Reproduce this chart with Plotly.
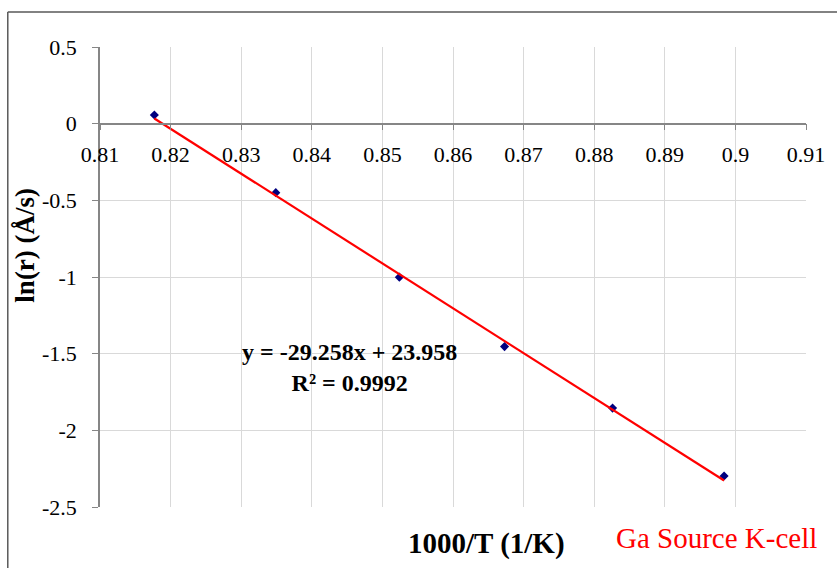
import plotly.graph_objects as go

# Data
inv_T = [0.8177, 0.8349, 0.8524, 0.8673, 0.8826, 0.8984]
ln_r = [0.057, -0.450, -1.001, -1.454, -1.855, -2.298]

# Trendline coefficients as printed on the chart
slope = -29.258
intercept = 23.958
r_squared = 0.9992

x_ticks = [0.81, 0.82, 0.83, 0.84, 0.85, 0.86, 0.87, 0.88, 0.89, 0.90, 0.91]
x_ticktext = ["0.81", "0.82", "0.83", "0.84", "0.85", "0.86", "0.87", "0.88", "0.89", "0.9", "0.91"]
y_ticks = [0.5, 0, -0.5, -1, -1.5, -2, -2.5]
y_ticktext = ["0.5", "0", "-0.5", "-1", "-1.5", "-2", "-2.5"]

x_range = [0.81, 0.91]
y_range = [-2.5, 0.5]

FONT = "Liberation Serif, Times New Roman, serif"

fig = go.Figure()

trend_x = [min(inv_T), max(inv_T)]
trend_y = [slope * v + intercept for v in trend_x]

fig.add_trace(go.Scatter(
    x=inv_T, y=ln_r, mode="markers",
    marker=dict(symbol="diamond", size=7, color="#00007f"),
    showlegend=False, hoverinfo="x+y",
))
fig.add_trace(go.Scatter(
    x=trend_x, y=trend_y, mode="lines",
    line=dict(color="#ff0000", width=2.2),
    showlegend=False, hoverinfo="skip",
))

zero_pos = (0 - y_range[0]) / (y_range[1] - y_range[0])

fig.update_layout(
    width=837, height=568,
    margin=dict(l=100, r=25, t=47, b=61),
    paper_bgcolor="white", plot_bgcolor="white",
    font=dict(family=FONT, size=20, color="black"),
    xaxis=dict(
        range=x_range, tickvals=x_ticks, ticktext=x_ticktext,
        showgrid=True, gridcolor="#d9d9d9", gridwidth=1,
        showline=True, linecolor="#868686", linewidth=1.5,
        ticks="outside", ticklen=6, tickcolor="#868686",
        anchor="free", position=zero_pos, side="bottom",
        zeroline=False, ticklabelstandoff=5,
        tickfont=dict(family=FONT, size=22, color="black"),
        domain=[0, 1],
    ),
    yaxis=dict(
        range=y_range, tickvals=y_ticks, ticktext=y_ticktext,
        showgrid=True, gridcolor="#d9d9d9", gridwidth=1,
        showline=True, linecolor="#868686", linewidth=1.5,
        ticks="outside", ticklen=6, tickcolor="#868686",
        zeroline=False, ticklabelstandoff=11,
        tickfont=dict(family=FONT, size=22, color="black"),
        domain=[0, 1],
    ),
)

def px_x(p):
    return (p - 100) / 712

def px_y(p):
    return (507 - p) / 460

# Axis titles and texts as annotations
fig.add_annotation(
    text="<b>ln(r) (Å/s)</b>", textangle=-90,
    xref="paper", yref="paper", x=px_x(24), y=px_y(245),
    xanchor="center", yanchor="middle",
    showarrow=False, font=dict(family=FONT, size=27, color="black"),
)
fig.add_annotation(
    text="<b>1000/T (1/K)</b>",
    xref="paper", yref="paper", x=px_x(490), y=px_y(543),
    xanchor="center", yanchor="middle",
    showarrow=False, font=dict(family=FONT, size=29, color="black"),
)
fig.add_annotation(
    text="Ga Source K-cell",
    xref="paper", yref="paper", x=px_x(722), y=px_y(538),
    xanchor="center", yanchor="middle",
    showarrow=False, font=dict(family=FONT, size=29, color="#ff0000"),
)
fig.add_annotation(
    text=f"<b>y = {slope}x + {intercept}<br>R² = {r_squared}</b>",
    xref="paper", yref="paper", x=px_x(352), y=px_y(367),
    xanchor="center", yanchor="middle",
    showarrow=False, align="center",
    font=dict(family=FONT, size=24, color="black"),
)

# Outer chart frame (top and left edges visible)
fx0 = px_x(7)
fx1 = px_x(845)
fy_top = px_y(12)
fy_bot = px_y(575)
fig.add_shape(type="line", xref="paper", yref="paper",
              x0=fx0, x1=fx1, y0=fy_top, y1=fy_top,
              line=dict(color="#595959", width=1.5))
fig.add_shape(type="line", xref="paper", yref="paper",
              x0=fx0, x1=fx0, y0=fy_top, y1=fy_bot,
              line=dict(color="#595959", width=1.5))

fig.write_html("out.html", config={"displayModeBar": False},
               post_script="document.body.style.margin='0';")
